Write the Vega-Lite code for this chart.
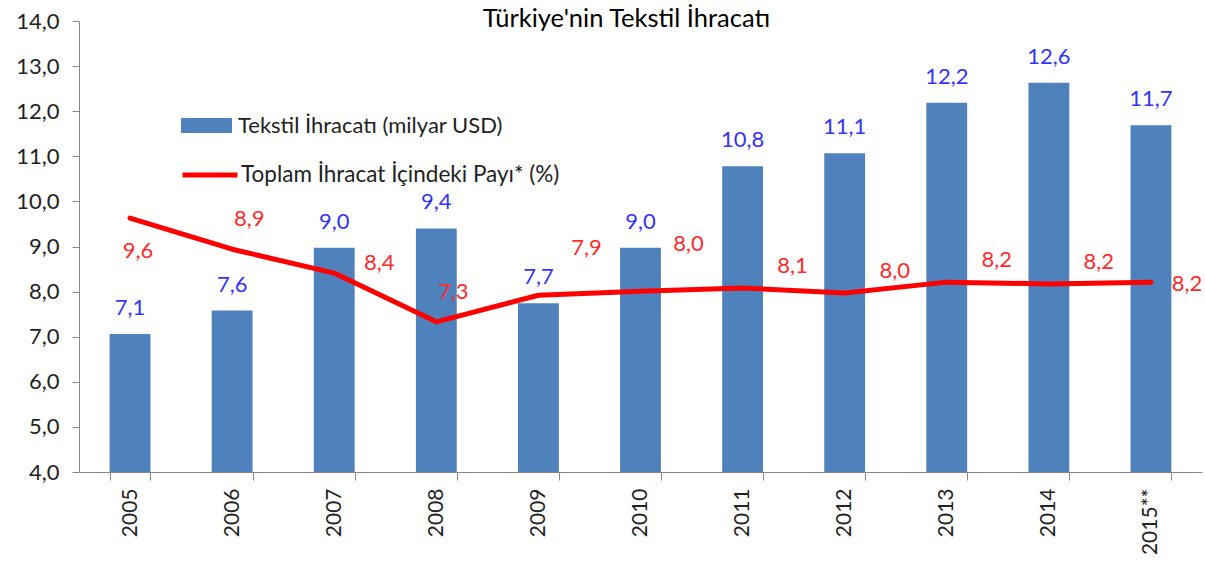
{
  "$schema": "https://vega.github.io/schema/vega-lite/v6.json",
  "autosize": {"type": "none"},
  "padding": {"left": 79, "top": 21, "right": 3, "bottom": 94},
  "width": 1123,
  "height": 451,
  "background": "white",
  "config": {
    "locale": {"number": {"decimal": ",", "thousands": ".", "grouping": [3], "currency": ["", " ₺"]}},
    "font": "Lato",
    "view": {"stroke": null},
    "axis": {"grid": false, "domainColor": "#868686", "tickColor": "#868686", "labelColor": "#222222", "labelFont": "Lato"}
  },
  "title": {
    "text": "Türkiye'nin Tekstil İhracatı",
    "fontSize": 25.5,
    "font": "Lato",
    "fontWeight": "normal",
    "color": "#000000",
    "anchor": "middle",
    "frame": "group",
    "baseline": "alphabetic",
    "offset": -42,
    "dx": -14
  },
  "data": {"values": [
    {"year": "2005", "textile": 7.06, "share": 9.63},
    {"year": "2006", "textile": 7.58, "share": 8.94},
    {"year": "2007", "textile": 8.97, "share": 8.41},
    {"year": "2008", "textile": 9.40, "share": 7.33},
    {"year": "2009", "textile": 7.74, "share": 7.92},
    {"year": "2010", "textile": 8.97, "share": 8.01},
    {"year": "2011", "textile": 10.78, "share": 8.08},
    {"year": "2012", "textile": 11.07, "share": 7.97},
    {"year": "2013", "textile": 12.19, "share": 8.21},
    {"year": "2014", "textile": 12.63, "share": 8.17},
    {"year": "2015**", "textile": 11.69, "share": 8.21}
  ]},
  "encoding": {
    "x": {
      "field": "year", "type": "nominal", "sort": null,
      "scale": {"paddingInner": 0.6, "paddingOuter": 0.3},
      "axis": {"title": null, "labelAngle": -90, "labelAlign": "right", "labelBaseline": "middle", "labelFontSize": 21, "labelPadding": 8, "tickBand": "extent", "tickSize": 8}
    }
  },
  "layer": [
    {
      "mark": {"type": "bar"},
      "encoding": {
        "y": {
          "field": "textile", "type": "quantitative",
          "scale": {"domain": [4, 14], "nice": false, "zero": false},
          "axis": {"title": null, "values": [4, 5, 6, 7, 8, 9, 10, 11, 12, 13, 14], "format": ".1f", "labelFontSize": 22, "tickSize": 7, "labelPadding": 13}
        },
        "y2": {"datum": 4},
        "fill": {
          "datum": "Tekstil İhracatı (milyar USD)",
          "scale": {"range": ["#4F81BD"]},
          "legend": {"title": null, "orient": "none", "legendX": 102, "legendY": 79, "padding": 0, "symbolType": "M-1,-0.29L1,-0.29L1,0.29L-1,0.29Z", "symbolSize": 2601, "symbolStrokeWidth": 0, "labelFontSize": 22, "labelColor": "#222222", "labelFont": "Lato", "labelOffset": 6, "labelLimit": 0}
        }
      }
    },
    {
      "mark": {"type": "text", "color": "#3333FF", "fontSize": 22, "dy": -26, "baseline": "middle"},
      "encoding": {
        "y": {"field": "textile", "type": "quantitative"},
        "text": {"field": "textile", "type": "quantitative", "format": ".1f"}
      }
    },
    {
      "mark": {"type": "line", "strokeWidth": 5, "strokeCap": "round", "strokeJoin": "round"},
      "encoding": {
        "y": {"field": "share", "type": "quantitative"},
        "stroke": {
          "datum": "Toplam İhracat İçindeki Payı* (%)",
          "scale": {"range": ["#FF0000"]},
          "legend": {"title": null, "orient": "none", "legendX": 101, "legendY": 124, "padding": 0, "symbolType": "stroke", "symbolSize": 3025, "symbolStrokeWidth": 5, "labelFontSize": 22.5, "labelColor": "#222222", "labelFont": "Lato", "labelOffset": 1, "labelLimit": 0}
        }
      }
    },
    {
      "transform": [{"filter": "datum.year == '2005'"}],
      "mark": {"type": "text", "color": "#FF2A2A", "fontSize": 22, "dx": 8, "dy": 33, "baseline": "middle"},
      "encoding": {"y": {"field": "share", "type": "quantitative"}, "text": {"field": "share", "type": "quantitative", "format": ".1f"}}
    },
    {
      "transform": [{"filter": "datum.year == '2006' || datum.year == '2008'"}],
      "mark": {"type": "text", "color": "#FF2A2A", "fontSize": 22, "dx": 17, "dy": -30, "baseline": "middle"},
      "encoding": {"y": {"field": "share", "type": "quantitative"}, "text": {"field": "share", "type": "quantitative", "format": ".1f"}}
    },
    {
      "transform": [{"filter": "datum.year == '2007'"}],
      "mark": {"type": "text", "color": "#FF2A2A", "fontSize": 22, "dx": 45, "dy": -10, "baseline": "middle"},
      "encoding": {"y": {"field": "share", "type": "quantitative"}, "text": {"field": "share", "type": "quantitative", "format": ".1f"}}
    },
    {
      "transform": [{"filter": "datum.year == '2009' || datum.year == '2010'"}],
      "mark": {"type": "text", "color": "#FF2A2A", "fontSize": 22, "dx": 48, "dy": -47, "baseline": "middle"},
      "encoding": {"y": {"field": "share", "type": "quantitative"}, "text": {"field": "share", "type": "quantitative", "format": ".1f"}}
    },
    {
      "transform": [{"filter": "datum.year == '2011' || datum.year == '2012' || datum.year == '2013' || datum.year == '2014'"}],
      "mark": {"type": "text", "color": "#FF2A2A", "fontSize": 22, "dx": 50, "dy": -22, "baseline": "middle"},
      "encoding": {"y": {"field": "share", "type": "quantitative"}, "text": {"field": "share", "type": "quantitative", "format": ".1f"}}
    },
    {
      "transform": [{"filter": "datum.year == '2015**'"}],
      "mark": {"type": "text", "color": "#FF2A2A", "fontSize": 22, "dx": 36, "dy": 2, "baseline": "middle"},
      "encoding": {"y": {"field": "share", "type": "quantitative"}, "text": {"field": "share", "type": "quantitative", "format": ".1f"}}
    }
  ]
}
